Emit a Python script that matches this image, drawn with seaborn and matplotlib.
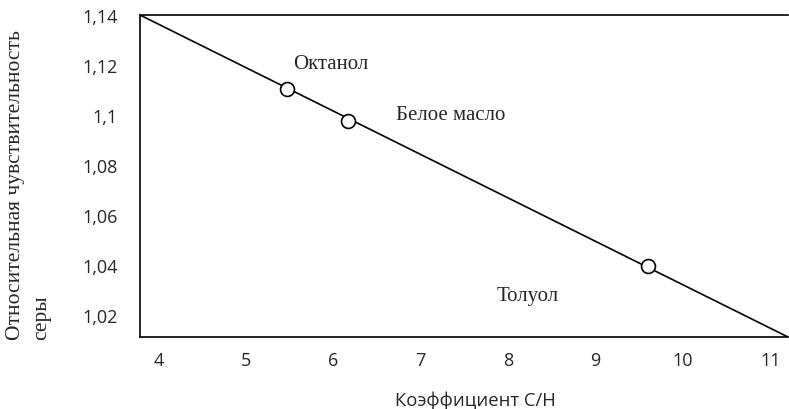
import matplotlib
matplotlib.use('Agg')
import matplotlib.pyplot as plt
import pandas as pd
import seaborn as sns
from matplotlib.ticker import FuncFormatter

# calibration line
line_x = [3.79, 11.2]
line_y = [1.14, 1.0112]

# measured substances
names = ['Октанол', 'Белое масло', 'Толуол']
ch_ratio = [5.47, 6.17, 9.60]
sensitivity = [1.1105, 1.0976, 1.0396]
label_x = [5.54, 6.72, 7.87]
label_y = [1.1205, 1.100, 1.0276]

xticks = [4, 5, 6, 7, 8, 9, 10, 11]
yticks = [1.02, 1.04, 1.06, 1.08, 1.10, 1.12, 1.14]

sns.set_style('white')
plt.rcParams['font.family'] = ['Open Sans', 'DejaVu Sans']

fig = plt.figure(figsize=(7.89, 4.10), dpi=100)
ax = fig.add_axes([140/789, 72/410, 648/789, 322/410])

d_line = pd.DataFrame({'x': line_x, 'y': line_y})
d_pts = pd.DataFrame({'x': ch_ratio, 'y': sensitivity, 'name': names})

sns.lineplot(data=d_line, x='x', y='y', ax=ax, color='black', linewidth=1.2)
sns.scatterplot(data=d_pts, x='x', y='y', ax=ax, s=100, facecolor='white',
                edgecolor='black', linewidth=1.2, zorder=3)

for n, lx, ly in zip(names, label_x, label_y):
    ax.text(lx, ly, n, family='Liberation Serif', fontsize=15, va='center', ha='left')

ax.set_xlim(3.79, 11.2)
ax.set_ylim(1.0112, 1.14)
ax.set_xticks(xticks)
ax.set_yticks(yticks)
fmt = lambda v, p: ('%g' % round(v, 2)).replace('.', ',')
ax.xaxis.set_major_formatter(FuncFormatter(fmt))
ax.yaxis.set_major_formatter(FuncFormatter(fmt))
ax.tick_params(length=0, labelsize=13)
ax.tick_params(axis='x', pad=10)
ax.tick_params(axis='y', pad=16)
ax.set_xlabel('')
ax.set_ylabel('')

for s in ['left', 'bottom', 'top']:
    ax.spines[s].set_color('black')
    ax.spines[s].set_linewidth(1.2)
ax.spines['right'].set_visible(False)

fig.text(475/789, 9/410, 'Коэффициент C/H', ha='center', va='center', fontsize=13.3)
fig.text(16/789, 70/410, 'Относительная чувствительность', rotation=90,
         ha='center', va='bottom', family='Liberation Serif', fontsize=15.5)
fig.text(42/789, 70/410, 'серы', rotation=90,
         ha='center', va='bottom', family='Liberation Serif', fontsize=15.5)

fig.savefig('out.png', dpi=100)
